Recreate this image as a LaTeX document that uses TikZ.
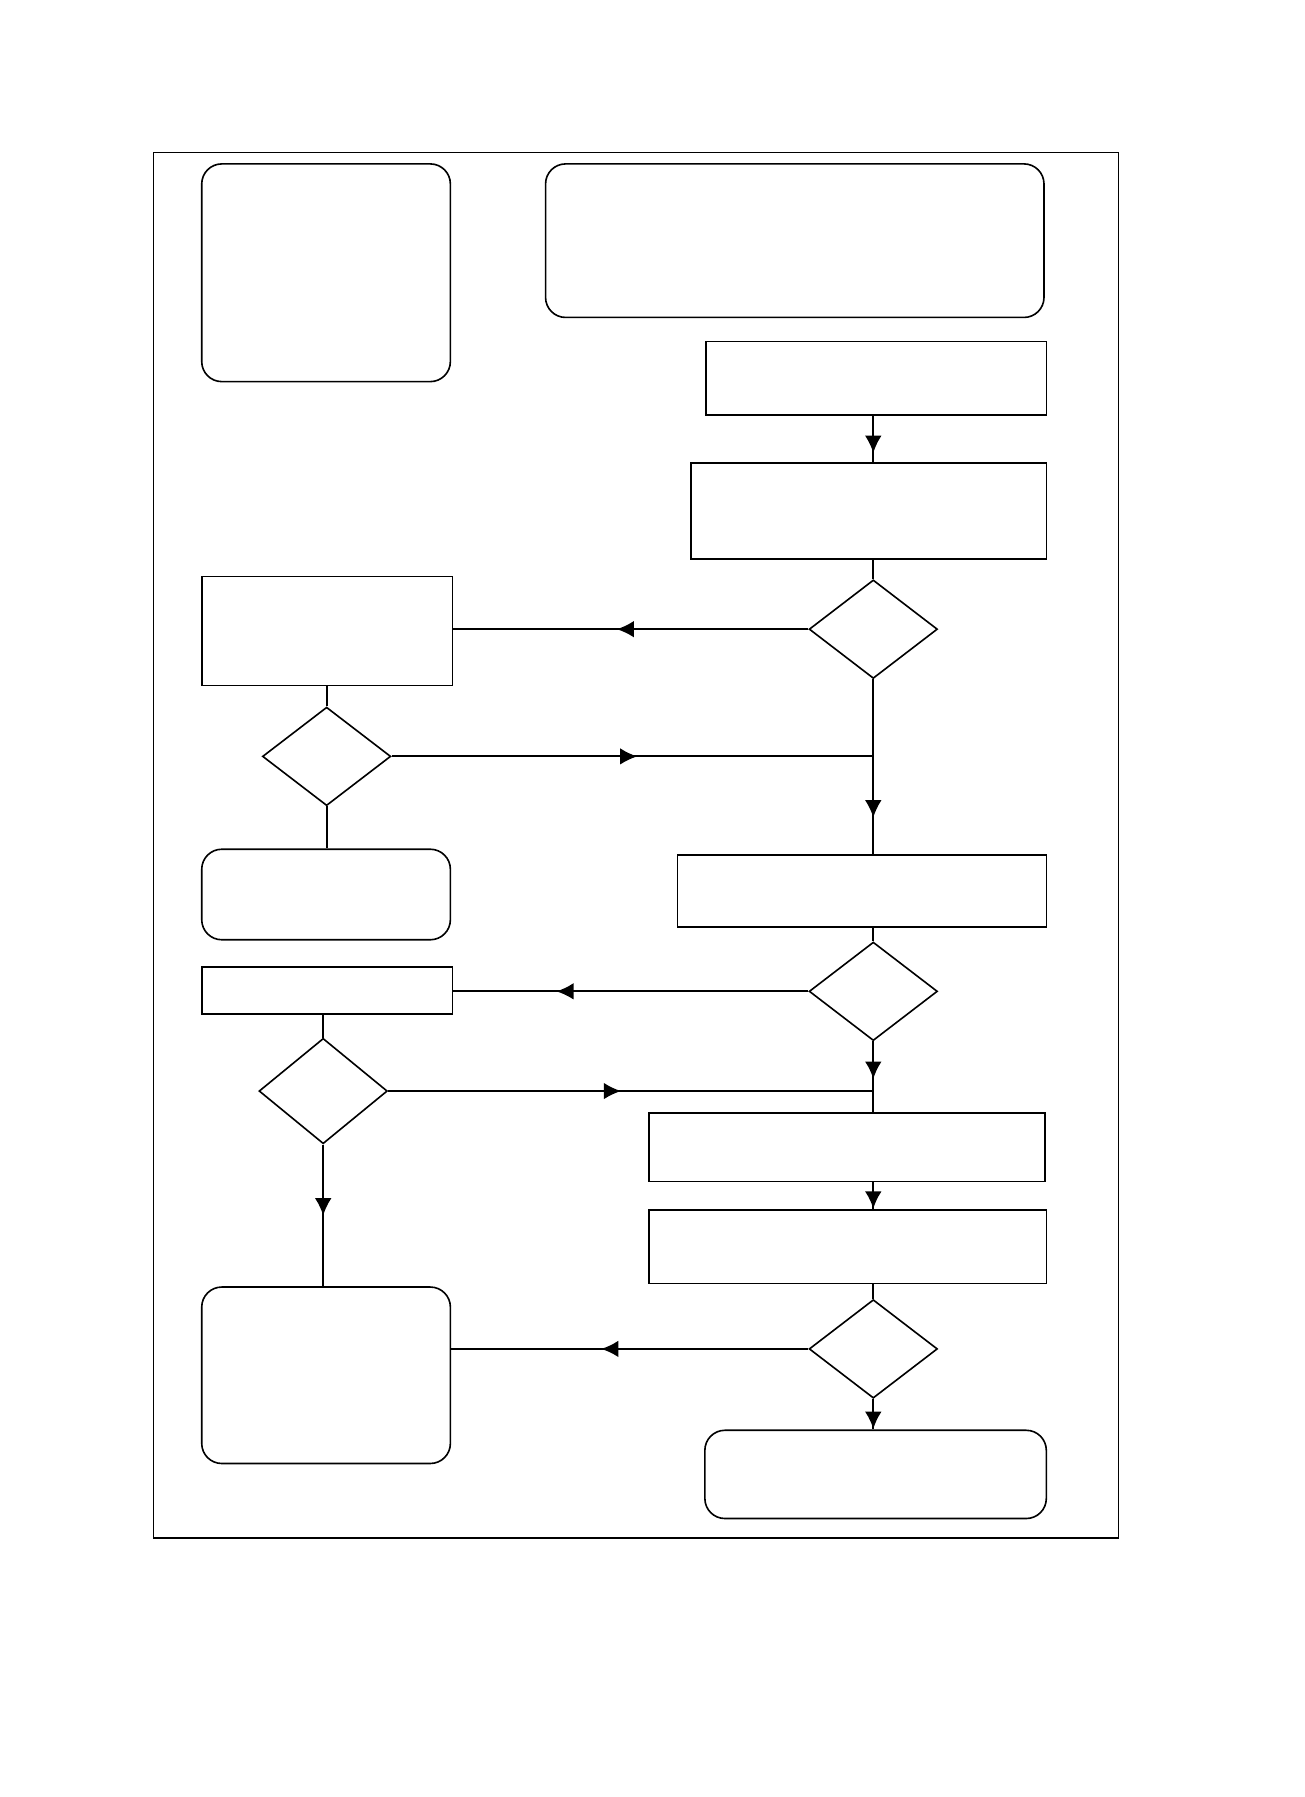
\documentclass[tikz,border=0pt]{standalone}
\usetikzlibrary{shapes.geometric,arrows.meta,decorations.markings}

\tikzset{
  procbox/.style={draw, line width=0.8pt, rectangle, inner sep=0pt},
  roundbox/.style={draw, line width=0.8pt, rectangle, rounded corners=0.35cm, inner sep=0pt},
  decision/.style={draw, line width=0.8pt, diamond, inner sep=0pt, minimum width=2.24cm, minimum height=1.72cm},
  flow/.style={line width=0.9pt},
  midarrow/.style={flow, postaction={decorate}, decoration={markings,
      mark=at position #1 with {\arrow{Latex[length=0.3cm,width=0.29cm]}}}}
}

\begin{document}
\begin{tikzpicture}[x=0.02cm, y=-0.02cm]
    \useasboundingbox (0,0) rectangle (1138,1568);
    % Frame
    \draw[line width=0.6pt] (134,133) rectangle (976,1342);

    % Top boxes
    \node[roundbox, minimum width=4.34cm, minimum height=3.8cm] (a) at (284.5,238) {};
    \node[roundbox, minimum width=8.7cm, minimum height=2.68cm] (b) at (693.5,210) {};

    % Right column
    \node[procbox, minimum width=5.94cm, minimum height=1.28cm] (c) at (764.5,330) {};
    \node[procbox, minimum width=6.2cm, minimum height=1.68cm] (d) at (758,446) {};
    \node[decision] (d1) at (762,549) {};
    \node[procbox, minimum width=6.44cm, minimum height=1.26cm] (f) at (752,777.5) {};
    \node[decision] (d3) at (762,865) {};
    \node[procbox, minimum width=6.92cm, minimum height=1.2cm] (i) at (739,1001) {};
    \node[procbox, minimum width=6.94cm, minimum height=1.28cm] (j) at (739.5,1088) {};
    \node[decision] (d5) at (762,1177) {};
    \node[roundbox, minimum width=5.96cm, minimum height=1.54cm] (l) at (764,1286.5) {};

    % Left column
    \node[procbox, minimum width=4.38cm, minimum height=1.9cm] (e) at (285.5,550.5) {};
    \node[decision] (d2) at (285,660) {};
    \node[roundbox, minimum width=4.34cm, minimum height=1.58cm] (g) at (284.5,780.5) {};
    \node[procbox, minimum width=4.38cm, minimum height=0.82cm] (h) at (285.5,864.5) {};
    \node[decision, minimum height=1.84cm] (d4) at (282,952) {};
    \node[roundbox, minimum width=4.34cm, minimum height=3.08cm] (k) at (284.5,1200) {};

    % Junctions
    \coordinate (j1) at (d1.south |- d2.east);
    \coordinate (j2) at (d3.south |- d4.east);

    % Connectors
    \draw[midarrow=0.8] (d1.north |- c.south) -- (d1.north |- d.north);
    \draw[flow] (d1.north |- d.south) -- (d1.north);
    \draw[midarrow=0.54] (d1.west) -- (d1.west -| e.east);
    \draw[flow] (d2.north |- e.south) -- (d2.north);
    \draw[midarrow=0.51] (d2.east) -- (j1);
    \draw[midarrow=0.79] (d1.south) -- (d1.south |- f.north);
    \draw[flow] (d2.south) -- (d2.south |- g.north);
    \draw[flow] (d3.north |- f.south) -- (d3.north);
    \draw[midarrow=0.71] (d3.west) -- (d3.west -| h.east);
    \draw[flow] (d4.north |- h.south) -- (d4.north);
    \draw[midarrow=0.48] (d4.east) -- (j2);
    \draw[midarrow=0.53] (d3.south) -- (d3.south |- i.north);
    \draw[midarrow=0.97] (d5.north |- i.south) -- (d5.north |- j.north);
    \draw[flow] (d5.north |- j.south) -- (d5.north);
    \draw[midarrow=0.5] (d4.south) -- (d4.south |- k.north);
    \draw[midarrow=0.58] (d5.west) -- (d5.west -| k.east);
    \draw[midarrow=0.98] (d5.south) -- (d5.south |- l.north);
\end{tikzpicture}
\end{document}
